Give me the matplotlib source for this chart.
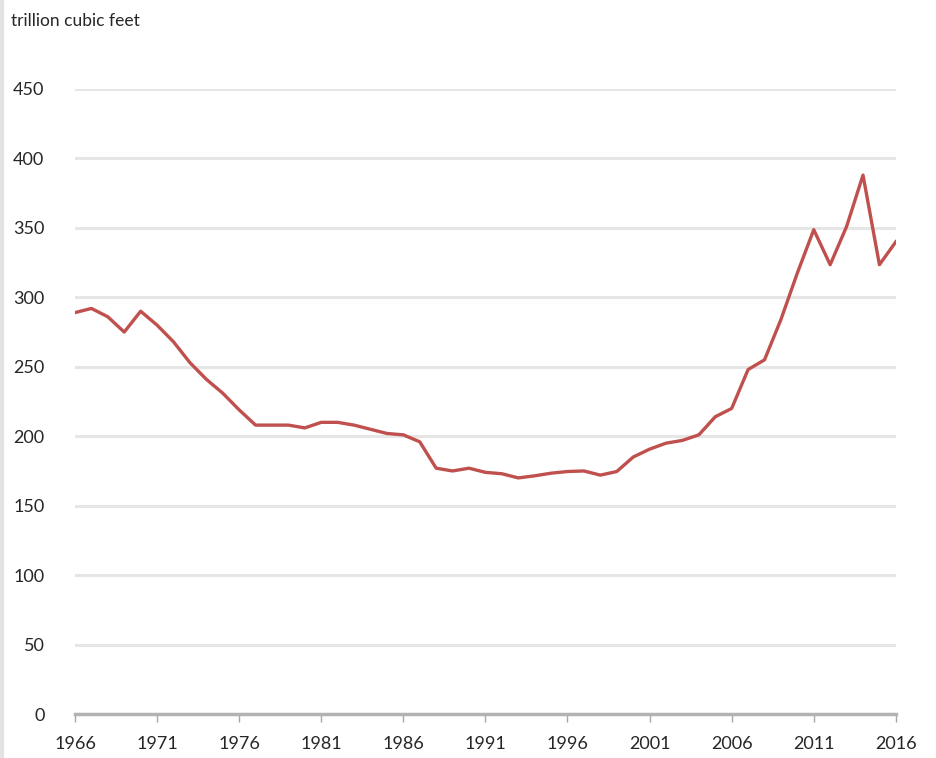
import matplotlib
matplotlib.use("Agg")
import matplotlib.pyplot as plt
from matplotlib.lines import Line2D

# proved reserves, trillion cubic feet
years = list(range(1966, 2017))
reserves = [
    289, 292, 286, 275, 290, 280, 268, 253, 241, 231,
    219, 208, 208, 208, 206, 210, 210, 208, 205, 202,
    201, 196, 177, 175, 177, 174, 173, 170, 171.5, 173.4,
    174.6, 175, 172, 174.6, 185, 190.7, 195, 197, 201, 214,
    220, 248, 255, 284, 317.5, 348.7, 323.5, 351, 388, 323.5,
    340,
]
xticks = list(range(1966, 2017, 5))
yticks = list(range(0, 451, 50))

plt.rcParams["font.family"] = ["Lato", "DejaVu Sans"]

fig = plt.figure(figsize=(9.36, 7.58), dpi=100)
ax = fig.add_axes([0.0801, 0.058, 0.877, 0.8246])

ax.plot(years, reserves, color="#c0504d", lw=2.4, solid_joinstyle="round", zorder=3)

ax.set_xlim(1966, 2016)
ax.set_ylim(0, 450)
ax.set_xticks(xticks)
ax.set_yticks(yticks)
ax.tick_params(axis="x", direction="out", length=6, width=1, color="#a6a6a6",
               labelsize=13, labelcolor="#262626", pad=10)
ax.tick_params(axis="y", length=0, labelsize=13, labelcolor="#262626", pad=22)
ax.grid(axis="y", color="#e6e6e6", lw=2.2, zorder=0)
ax.set_axisbelow(True)
for s in ("top", "right", "left"):
    ax.spines[s].set_visible(False)
ax.spines["bottom"].set_color("#b3b3b3")
ax.spines["bottom"].set_linewidth(2.5)
ax.spines["bottom"].set_zorder(2)

fig.text(0.012, 0.972, "trillion cubic feet", fontsize=12.5, color="#262626",
         ha="left", va="center")
# thin frame edge on the left of the picture
fig.add_artist(Line2D([0.002, 0.002], [0, 1], transform=fig.transFigure,
                      color="#e3e3e3", lw=3))

fig.savefig("out.png", dpi=100)
